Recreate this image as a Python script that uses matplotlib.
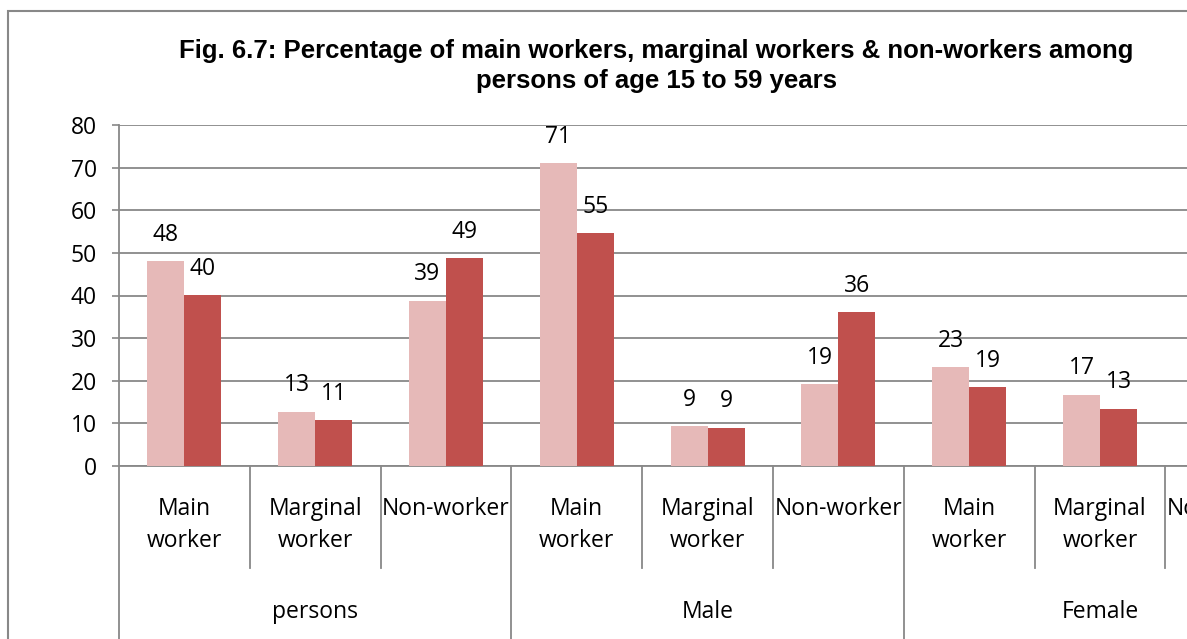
import numpy as np
import matplotlib
matplotlib.use("Agg")
import matplotlib.pyplot as plt
from matplotlib.patches import Rectangle

# ---- data ----
categories = ["Main\nworker", "Marginal\nworker", "Non-worker",
              "Main\nworker", "Marginal\nworker", "Non-worker",
              "Main\nworker", "Marginal\nworker", "Non-worker"]
groups = ["persons", "Male", "Female"]
series_a = [48.0, 12.7, 38.8, 71.1, 9.3, 19.2, 23.2, 16.7, np.nan]   # light series
series_b = [40.1, 10.7, 48.8, 54.6, 9.0, 36.1, 18.5, 13.4, np.nan]   # dark series
labels_a = ["48", "13", "39", "71", "9", "19", "23", "17", ""]
labels_b = ["40", "11", "49", "55", "9", "36", "19", "13", ""]
yticks = [0, 10, 20, 30, 40, 50, 60, 70, 80]
title = ("Fig. 6.7: Percentage of main workers, marginal workers & non-workers among\n"
         "persons of age 15 to 59 years")

LIGHT = "#E6B9B8"
DARK = "#C0504D"
GRID = "#888888"
FONT = "Open Sans"
FS = 16.5

W, H = 1187, 639
fig = plt.figure(figsize=(W / 100, H / 100), dpi=100)

# outer chart border (extends beyond the figure on right/bottom)
fig.patches.append(Rectangle((7.5 / W, -0.1), 1.2, 1.1 - 11.5 / H, transform=fig.transFigure,
                             fill=False, edgecolor=GRID, linewidth=1.5))

left_px, right_px = 119, 119 + 9 * 130.8
top_px, bot_px = 125, 466
ax = fig.add_axes([left_px / W, 1 - bot_px / H, (right_px - left_px) / W, (bot_px - top_px) / H])
ax.set_facecolor("none")

n = len(categories)
x = np.arange(n) + 0.5
bw = 0.283
ax.bar(x - bw / 2, series_a, width=bw, color=LIGHT, zorder=3)
ax.bar(x + bw / 2, series_b, width=bw, color=DARK, zorder=3)

for xi, v, t in zip(x - bw / 2, series_a, labels_a):
    if not np.isnan(v):
        ax.annotate(t, (xi, v), xytext=(0, 19), textcoords="offset points",
                    ha="center", va="center", fontsize=FS, family=FONT, color="black")
for xi, v, t in zip(x + bw / 2, series_b, labels_b):
    if not np.isnan(v):
        ax.annotate(t, (xi, v), xytext=(0, 19), textcoords="offset points",
                    ha="center", va="center", fontsize=FS, family=FONT, color="black")

ax.set_xlim(0, n)
ax.set_ylim(0, 80)
ax.set_yticks(yticks)
ax.set_yticklabels([str(v) for v in yticks], fontsize=FS, family=FONT)
ax.tick_params(axis="y", length=5, width=1.2, color=GRID, pad=11, direction="out")
ax.set_xticks([])
ax.yaxis.grid(True, color=GRID, linewidth=1.3, zorder=0)
ax.set_axisbelow(True)
for s in ["top", "right"]:
    ax.spines[s].set_visible(False)
for s in ["left", "bottom"]:
    ax.spines[s].set_color(GRID)
    ax.spines[s].set_linewidth(1.3)

# multi-level category axis
tr = ax.get_xaxis_transform()
ppu = bot_px - top_px
inner_depth = -(568 - bot_px) / ppu
for b in range(0, n + 1):
    if b % 3 == 0:
        ax.plot([b, b], [0, -2], transform=tr, color=GRID, lw=1.3, clip_on=False)
    else:
        ax.plot([b, b], [0, inner_depth], transform=tr, color=GRID, lw=1.3, clip_on=False)

for xi, lab in zip(x, categories):
    for k, line in enumerate(lab.split("\n")):
        yp = 509 + 32 * k
        ax.text(xi, -(yp - bot_px) / ppu, line, transform=tr, ha="center", va="center",
                fontsize=FS, family=FONT, color="black", clip_on=False)

for g, name in enumerate(groups):
    ax.text(3 * g + 1.5, -(612 - bot_px) / ppu, name, transform=tr, ha="center", va="center",
            fontsize=FS, family=FONT, color="black", clip_on=False)

fig.text(656 / W, 1 - 66 / H, title, ha="center", va="center", fontsize=18.5,
         fontweight="bold", family="Liberation Sans", multialignment="center", linespacing=1.3)

fig.savefig("out.png", dpi=100)
